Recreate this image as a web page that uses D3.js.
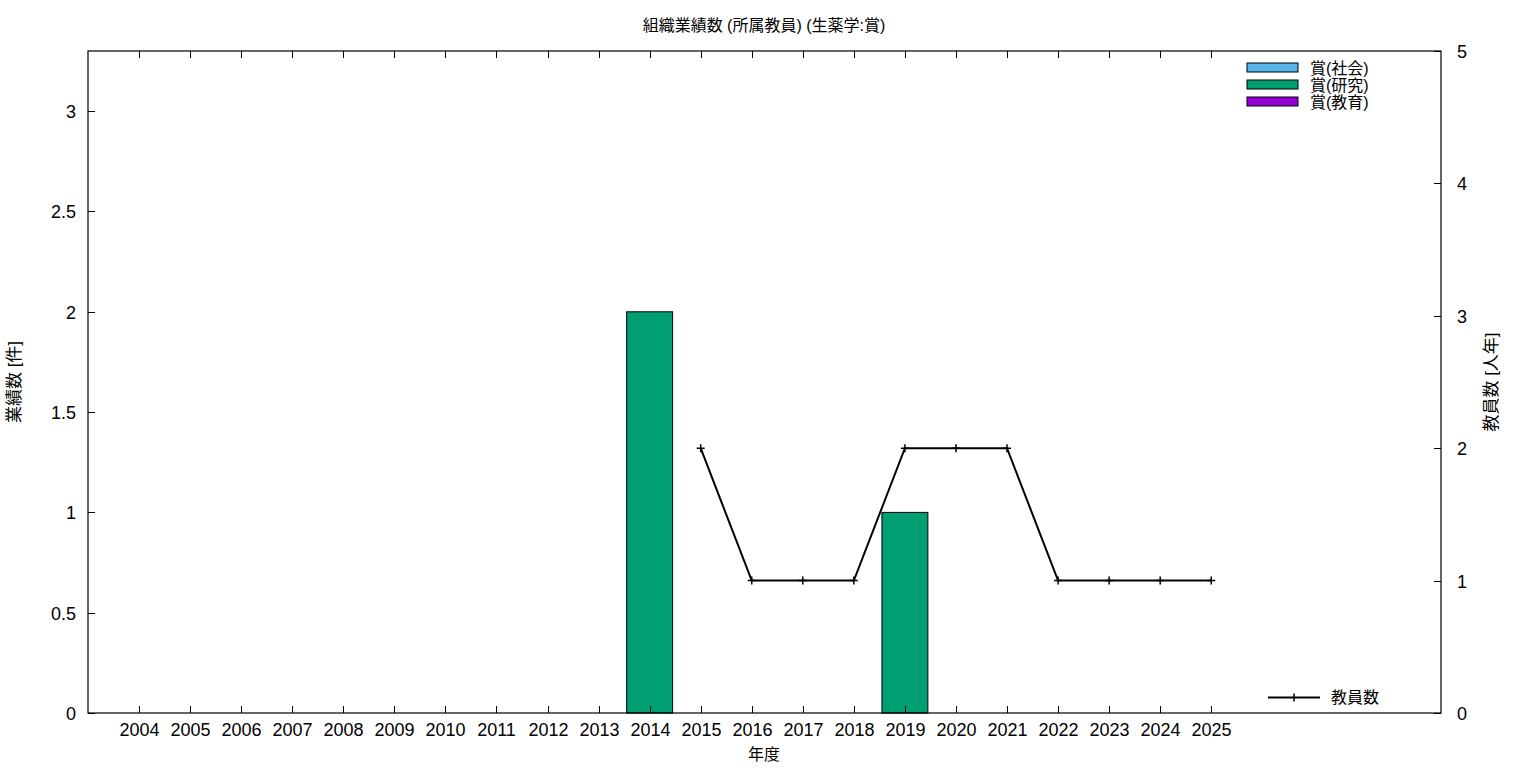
<!DOCTYPE html>
<html><head><meta charset="utf-8">
<script src="https://cdn.jsdelivr.net/npm/d3@7"></script>
<style>body{margin:0;background:#fff}svg{display:block}text{font-family:"Liberation Sans","Noto Sans CJK JP",sans-serif;fill:#000}</style>
</head><body>
<svg id="c" width="1536" height="768"></svg>
<script>
const years = [2004,2005,2006,2007,2008,2009,2010,2011,2012,2013,2014,2015,2016,2017,2018,2019,2020,2021,2022,2023,2024,2025];
const awardSocial   = [0,0,0,0,0,0,0,0,0,0,0,0,0,0,0,0,0,0,0,0,0,0];
const awardResearch = [0,0,0,0,0,0,0,0,0,0,2,0,0,0,0,1,0,0,0,0,0,0];
const awardEdu      = [0,0,0,0,0,0,0,0,0,0,0,0,0,0,0,0,0,0,0,0,0,0];
const staffYears = [2015,2016,2017,2018,2019,2020,2021,2022,2023,2024,2025];
const staff      = [2,1,1,1,2,2,2,1,1,1,1];
const leftTicks = [0,0.5,1,1.5,2,2.5,3];
const rightTicks = [0,1,2,3,4,5];
const seriesNames = ["賞(社会)","賞(研究)","賞(教育)"];
const seriesColors = ["#56b4e9","#009e73","#9400d3"];

const svg = d3.select("#c");
const L=88,R=1441,T=51,B=713;
const x = d3.scaleLinear().domain([2003,2029.5]).range([L,R]);
const y = d3.scaleLinear().domain([0,3.3]).range([B,T]);
const y2 = d3.scaleLinear().domain([0,5]).range([B,T]);
const tl = 7;

// bars (stacked)
const stacks=[awardSocial,awardResearch,awardEdu];
years.forEach((yr,i)=>{
  let base=0;
  stacks.forEach((s,k)=>{
    const v=s[i]; if(!v) return;
    svg.append("rect").attr("x",x(yr-0.45)).attr("width",x(yr+0.45)-x(yr-0.45))
      .attr("y",y(base+v)).attr("height",y(base)-y(base+v))
      .attr("fill",seriesColors[k]).attr("stroke","#000").attr("stroke-width",1);
    base+=v;
  });
});

// line
const line=d3.line().x((d,i)=>x(staffYears[i])).y(d=>y2(d));
svg.append("path").datum(staff).attr("d",line).attr("fill","none").attr("stroke","#000").attr("stroke-width",2);
staff.forEach((v,i)=>{
  const cx=x(staffYears[i]),cy=y2(v);
  svg.append("path").attr("d",`M${cx-4},${cy}H${cx+4}M${cx},${cy-4}V${cy+4}`).attr("stroke","#000").attr("stroke-width",1.5);
});

// frame
svg.append("rect").attr("x",L).attr("y",T).attr("width",R-L).attr("height",B-T).attr("fill","none").attr("stroke","#000").attr("stroke-width",1.2);

// x ticks
years.forEach(yr=>{
  const px=Math.round(x(yr))+0.5;
  svg.append("line").attr("x1",px).attr("x2",px).attr("y1",B).attr("y2",B-tl).attr("stroke","#000");
  svg.append("line").attr("x1",px).attr("x2",px).attr("y1",T).attr("y2",T+tl).attr("stroke","#000");
  svg.append("text").attr("x",px).attr("y",736).attr("text-anchor","middle").attr("font-size",18).text(yr);
});
leftTicks.forEach(v=>{
  const py=Math.round(y(v))+0.5;
  svg.append("line").attr("x1",L).attr("x2",L+tl).attr("y1",py).attr("y2",py).attr("stroke","#000");
  svg.append("text").attr("x",76).attr("y",py+6).attr("text-anchor","end").attr("font-size",18).text(v);
});
rightTicks.forEach(v=>{
  const py=Math.round(y2(v))+0.5;
  svg.append("line").attr("x1",R).attr("x2",R-tl).attr("y1",py).attr("y2",py).attr("stroke","#000");
  svg.append("text").attr("x",1457).attr("y",py+6).attr("text-anchor","start").attr("font-size",18).text(v);
});

// titles
svg.append("text").attr("x",764).attr("y",31).attr("text-anchor","middle").attr("font-size",16).text("組織業績数 (所属教員) (生薬学:賞)");
svg.append("text").attr("x",764).attr("y",760).attr("text-anchor","middle").attr("font-size",16).text("年度");
svg.append("text").attr("transform","translate(20,382) rotate(-90)").attr("text-anchor","middle").attr("font-size",17).text("業績数 [件]");
svg.append("text").attr("transform","translate(1497,382) rotate(-90)").attr("text-anchor","middle").attr("font-size",17).text("教員数 [人年]");

// legend bars
seriesNames.forEach((n,k)=>{
  const yy=63+k*17;
  svg.append("rect").attr("x",1247).attr("y",yy).attr("width",51).attr("height",9).attr("fill",seriesColors[k]).attr("stroke","#000");
  svg.append("text").attr("x",1310).attr("y",yy+11).attr("font-size",16).text(n);
});
// legend line
svg.append("line").attr("x1",1268).attr("x2",1320).attr("y1",697.5).attr("y2",697.5).attr("stroke","#000").attr("stroke-width",2);
svg.append("path").attr("d","M1294,693.5V701.5").attr("stroke","#000").attr("stroke-width",1.5);
svg.append("text").attr("x",1331).attr("y",703).attr("font-size",16).text("教員数");
</script>
</body></html>
